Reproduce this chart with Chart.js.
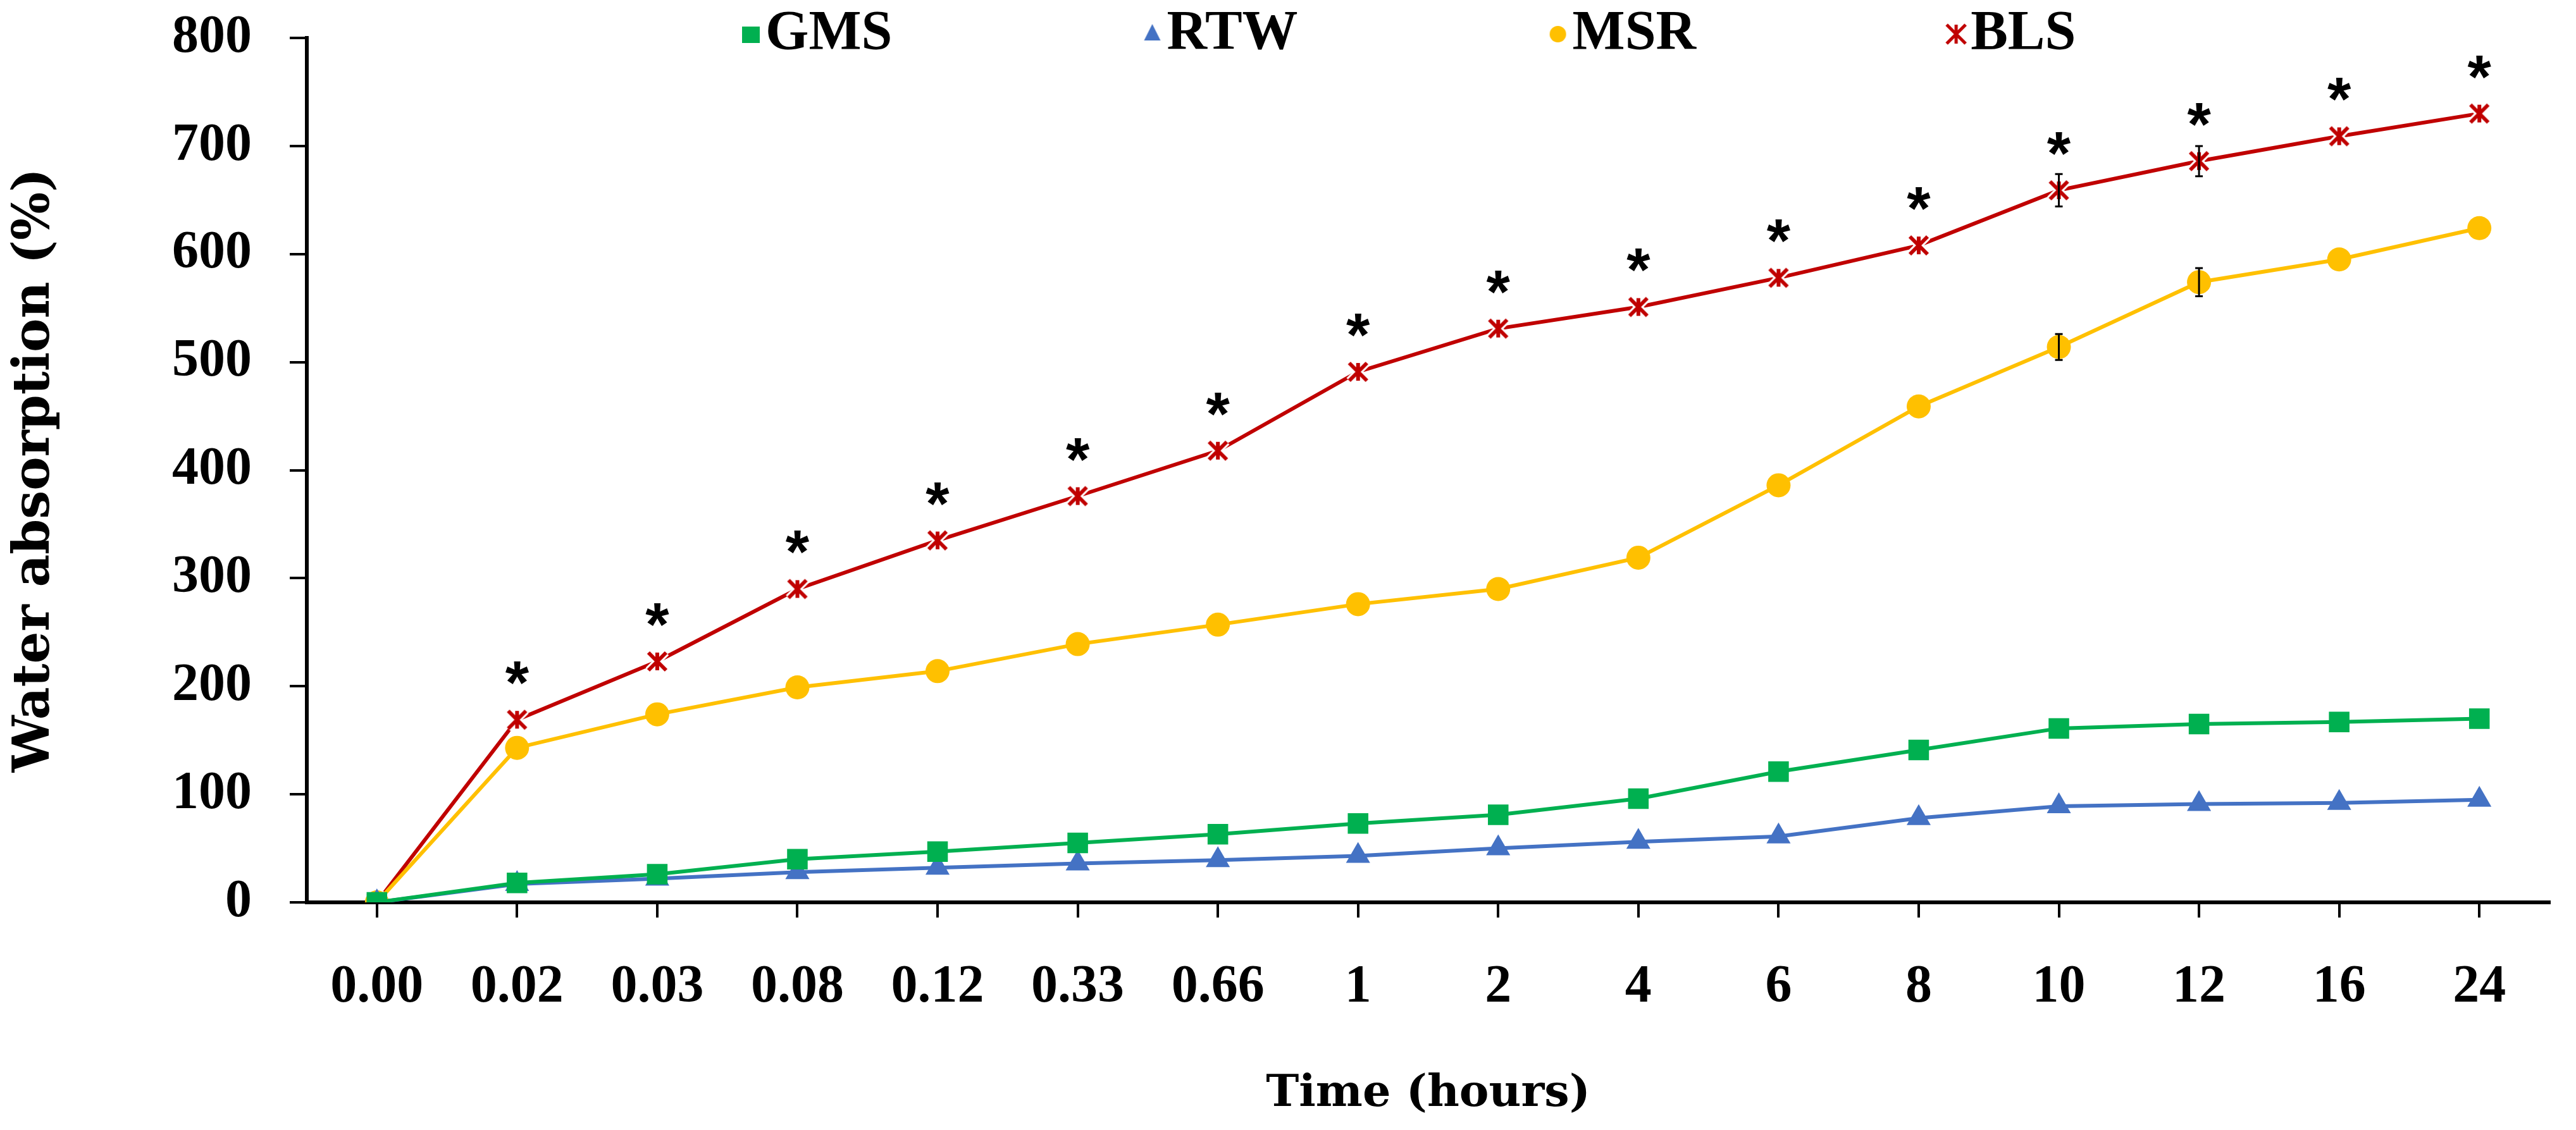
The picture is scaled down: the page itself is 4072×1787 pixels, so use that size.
<!DOCTYPE html>
<html>
<head>
<meta charset="utf-8">
<script src="https://cdn.jsdelivr.net/npm/chart.js@4.4.1/dist/chart.umd.min.js"></script>
<style>html,body{margin:0;padding:0;background:#ffffff;}canvas{display:block;}</style>
</head>
<body>
<canvas id="c" width="4072" height="1787"></canvas>
<script>
// ---- data ----
const categories = ['0.00','0.02','0.03','0.08','0.12','0.33','0.66','1','2','4','6','8','10','12','16','24'];
const seriesNames = ['GMS','RTW','MSR','BLS'];
const gms = [0,18,26,40,47,55,63,73,81,96,121,141,161,165,167,170];
const rtw = [0,17,22,28,32,36,39,43,50,56,61,78,89,91,92,95];
const msr = [0,143,174,199,214,239,257,276,290,319,386,459,514,574,595,624];
const bls = [0,169,223,290,335,376,418,491,531,551,578,608,659,686,709,730];
const msrErr = [0,0,0,0,0,0,0,0,0,0,0,0,12,13,0,0];
const blsErr = [0,0,0,0,0,0,0,0,0,0,0,0,15,14,0,0];
const significant = [false,true,true,true,true,true,true,true,true,true,true,true,true,true,true,true];
const yMin = 0, yMax = 800, yMinorStep = 50, yLabelStep = 100;
const xTitle = 'Time (hours)';
const yTitle = 'Water absorption (%)';

// ---- styles ----
const GREEN = '#00B050', BLUE = '#4472C4', YELLOW = '#FFC000', RED = '#C00000';
const TICK_FONT = {family: '"Liberation Serif", serif', weight: 'bold', size: 84};
const YTITLE_FONT = {family: '"DejaVu Serif", serif', weight: 'bold', size: 80};
const XTITLE_FONT = {family: '"DejaVu Serif", serif', weight: 'bold', size: 70};
const LEGEND_FONT = {family: '"Liberation Serif", serif', weight: 'bold', size: 88};
const LEGEND_BOX = 380;       // space reserved before each legend text
const LEGEND_PAD = 10;
const LEGEND_HEIGHT = 60;     // space the legend takes above the plot
const LEGEND_FIRST_TEXT_X = 1210;

function makeStar(w, h, cx, color, lw) {
  const c = document.createElement('canvas');
  c.width = w; c.height = h;
  const g = c.getContext('2d');
  const m = h / 2, r = h / 2 - lw;
  const path = () => {
    g.beginPath();
    g.moveTo(cx - r, m - r); g.lineTo(cx + r, m + r);
    g.moveTo(cx + r, m - r); g.lineTo(cx - r, m + r);
    g.moveTo(cx, m - r); g.lineTo(cx, m + r);
    g.stroke();
  };
  g.lineCap = 'butt';
  g.strokeStyle = '#ffffff'; g.lineWidth = lw + 6; path();
  g.strokeStyle = color; g.lineWidth = lw; path();
  return c;
}
// legend marker images: marker drawn near the right end of a wide canvas
function makeLegendMarker(kind, color) {
  const W = 2 * (LEGEND_BOX / 2 + 44 - 23) + 40, H = 40;
  const cx = W / 2 + LEGEND_BOX / 2 + 44 - 23, cy = 20;
  if (kind === 'star') return makeStar(W, H, cx, color, 5);
  const c = document.createElement('canvas');
  c.width = W; c.height = H;
  const g = c.getContext('2d');
  g.fillStyle = color;
  g.beginPath();
  if (kind === 'rect') g.rect(cx - 14, cy - 12, 28, 26);
  else if (kind === 'triangle') { g.moveTo(cx, cy - 16); g.lineTo(cx + 13, cy + 10); g.lineTo(cx - 13, cy + 10); g.closePath(); }
  else g.arc(cx, cy, 13, 0, Math.PI * 2);
  g.fill();
  return c;
}
const starImg = makeStar(40, 40, 20, RED, 6);
const legendMarkers = [makeLegendMarker('rect', GREEN), makeLegendMarker('triangle', BLUE), makeLegendMarker('circle', YELLOW), makeLegendMarker('star', RED)];

const legendPlace = {
  id: 'legendPlace',
  beforeInit(chart) {
    const lg = chart.legend;
    const origFit = lg.fit;
    lg.fit = function () { origFit.call(this); this.height = LEGEND_HEIGHT; };
  },
  afterLayout(chart) {
    const lg = chart.legend;
    const xStart = (lg.left + LEGEND_PAD + lg.right - lg.lineWidths[0]) / 2;
    const dx = LEGEND_FIRST_TEXT_X - (xStart + LEGEND_BOX + LEGEND_FONT.size / 2);
    lg.left += dx; lg.right += dx;
    lg.bottom = lg.top + 160;
  }
};

const marks = {
  id: 'marks',
  afterDatasetsDraw(chart) {
    const ctx = chart.ctx, ys = chart.scales.y;
    ctx.save();
    ctx.strokeStyle = '#000000';
    ctx.lineWidth = 3;
    [[2, msrErr], [3, blsErr]].forEach(([di, err]) => {
      const meta = chart.getDatasetMeta(di);
      const vals = chart.data.datasets[di].data;
      meta.data.forEach((pt, i) => {
        const e = err[i];
        if (!e) return;
        const y1 = ys.getPixelForValue(vals[i] + e), y2 = ys.getPixelForValue(vals[i] - e);
        ctx.beginPath();
        ctx.moveTo(pt.x, y1); ctx.lineTo(pt.x, y2);
        ctx.moveTo(pt.x - 6, y1); ctx.lineTo(pt.x + 6, y1);
        ctx.moveTo(pt.x - 6, y2); ctx.lineTo(pt.x + 6, y2);
        ctx.stroke();
      });
    });
    const meta = chart.getDatasetMeta(3);
    ctx.fillStyle = '#000000';
    ctx.font = 'bold 96px "Liberation Sans", sans-serif';
    ctx.textAlign = 'center';
    ctx.textBaseline = 'alphabetic';
    meta.data.forEach((pt, i) => {
      if (significant[i]) ctx.fillText('*', pt.x, pt.y - 26);
    });
    ctx.restore();
  }
};

const common = {borderWidth: 6, tension: 0, fill: false, pointBorderWidth: 0, pointHoverRadius: 0};

new Chart(document.getElementById('c'), {
  type: 'line',
  data: {
    labels: categories,
    datasets: [
      Object.assign({label: seriesNames[0], data: gms, borderColor: GREEN, backgroundColor: GREEN,
        pointBackgroundColor: GREEN, pointBorderColor: GREEN, pointStyle: 'rect', pointRadius: 23}, common),
      Object.assign({label: seriesNames[1], data: rtw, borderColor: BLUE, backgroundColor: BLUE,
        pointBackgroundColor: BLUE, pointBorderColor: BLUE, pointStyle: 'triangle', pointRadius: 22}, common),
      Object.assign({label: seriesNames[2], data: msr, borderColor: YELLOW, backgroundColor: YELLOW,
        pointBackgroundColor: YELLOW, pointBorderColor: YELLOW, pointStyle: 'circle', pointRadius: 19}, common),
      Object.assign({label: seriesNames[3], data: bls, borderColor: RED, backgroundColor: RED,
        pointBackgroundColor: RED, pointBorderColor: RED, pointStyle: starImg, pointRadius: 18}, common)
    ]
  },
  options: {
    responsive: false,
    animation: false,
    devicePixelRatio: 1,
    layout: {padding: {top: 0, right: 42, left: 0, bottom: 0}},
    plugins: {
      tooltip: {enabled: false},
      legend: {
        position: 'top',
        fullSize: false,
        align: 'center',
        labels: {
          usePointStyle: true,
          pointStyleWidth: LEGEND_BOX,
          boxWidth: LEGEND_BOX,
          boxHeight: 28,
          padding: LEGEND_PAD,
          color: '#000000',
          font: LEGEND_FONT,
          generateLabels(c) {
            const items = Chart.defaults.plugins.legend.labels.generateLabels(c);
            items.forEach(it => { it.pointStyle = legendMarkers[it.datasetIndex]; });
            return items;
          }
        }
      }
    },
    scales: {
      x: {
        type: 'category',
        offset: true,
        afterFit(scale) { scale.height = 360; },
        border: {display: true, color: '#000000', width: 6},
        grid: {display: true, offset: false, drawOnChartArea: false, drawTicks: true, tickLength: 24, color: '#000000', lineWidth: 4},
        ticks: {color: '#000000', font: TICK_FONT, padding: 61, autoSkip: false, maxRotation: 0},
        title: {display: true, text: xTitle, color: '#000000', font: XTITLE_FONT, padding: {top: 0, bottom: 14}}
      },
      y: {
        min: yMin, max: yMax,
        afterFit(scale) { scale.width = 485; scale.paddingTop = 0; scale.paddingBottom = 0; },
        border: {display: true, color: '#000000', width: 6},
        grid: {display: true, drawOnChartArea: false, drawTicks: true, tickLength: 27, color: '#000000', lineWidth: 4},
        ticks: {stepSize: yMinorStep, color: '#000000', font: TICK_FONT, padding: 60,
          callback: (v) => (v % yLabelStep === 0 ? String(v) : '')},
        title: {display: true, text: yTitle, color: '#000000', font: YTITLE_FONT, padding: {top: 8, bottom: 0}}
      }
    }
  },
  plugins: [legendPlace, marks]
});
</script>
</body>
</html>
